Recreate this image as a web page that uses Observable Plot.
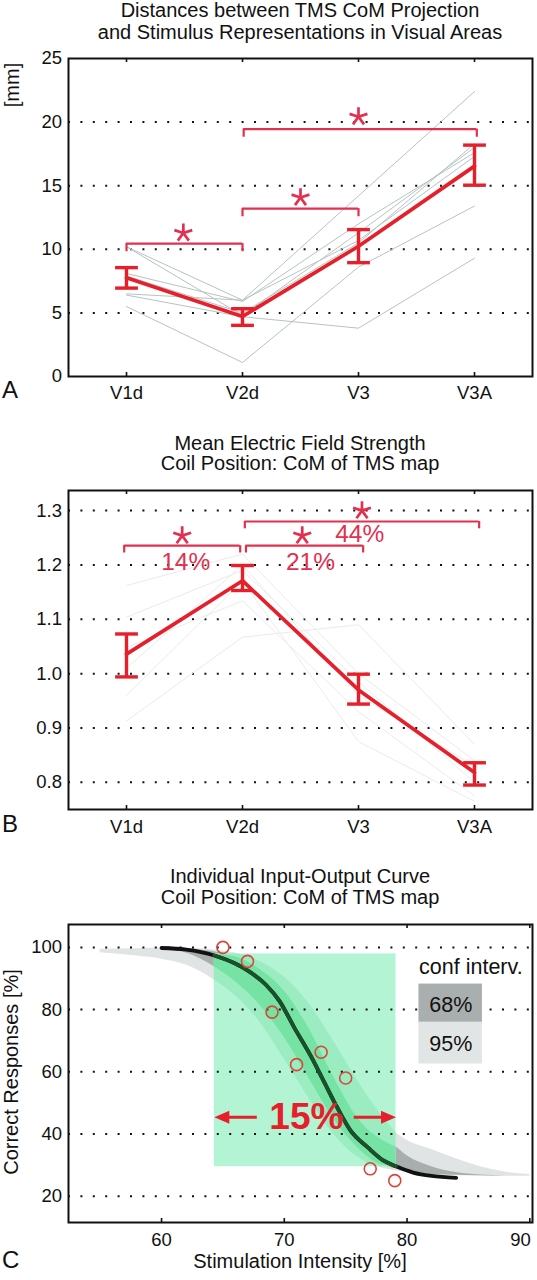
<!DOCTYPE html>
<html><head><meta charset="utf-8">
<script src="https://cdn.jsdelivr.net/npm/d3@7"></script>
<script src="https://cdn.jsdelivr.net/npm/@observablehq/plot@0.6"></script>
<style>
body{margin:0;background:#fff;}
#page{position:relative;width:537px;height:1280px;overflow:hidden;background:#fff;}
</style></head><body><div id="page"></div>
<script>
// ---------- data ----------
const areas = ["V1d", "V2d", "V3", "V3A"];

// Panel A: distances [mm]
const distMean = [7.77, 4.72, 10.24, 16.54];
const distLow  = [6.95, 4.02, 8.95, 15.04];
const distHigh = [8.56, 5.33, 11.55, 18.19];
const distSubjects = [
  [10.2, 6.0, 14.2, 22.4],
  [10.2, 4.8, 11.3, 18.0],
  [8.1, 5.9, 12.0, 17.6],
  [6.5, 6.0, 10.7, 17.3],
  [6.4, 4.7, 3.8, 9.3],
  [5.5, 1.1, 8.6, 13.4],
  [7.9, 5.0, 10.5, 18.3]
];
const distTicks = [0, 5, 10, 15, 20, 25];
const distSigFrom = [1, 2, 2.01];
const distSigTo   = [2, 3, 4.02];
const distSigY    = [10.45, 13.2, 19.45];
const distStarX   = [1.49, 2.5, 3.0];
const distStarY   = [11.28, 14.07, 20.42];

// Panel B: mean electric field strength
const fieldMean = [1.036, 1.171, 0.970, 0.818];
const fieldLow  = [0.994, 1.153, 0.944, 0.795];
const fieldHigh = [1.073, 1.199, 0.999, 0.836];
const fieldSubjects = [
  [1.162, 1.22, 1.0, 0.84],
  [1.104, 1.19, 0.985, 0.80],
  [1.048, 1.134, 0.93, 0.775],
  [0.913, 1.067, 1.09, 0.87],
  [0.96, 1.17, 0.875, 0.765],
  [1.01, 1.2, 0.96, 0.83]
];
const fieldTicks = [0.8, 0.9, 1.0, 1.1, 1.2, 1.3];
const fieldSigFrom = [0.98, 2.03, 2.02];
const fieldSigTo   = [1.98, 3.04, 4.04];
const fieldSigY    = [1.2355, 1.2355, 1.280];
const fieldStarX   = [1.48, 2.515, 3.03];
const fieldStarY   = [1.254, 1.254, 1.300];
const fieldPct     = ["14%", "21%", "44%"];
const fieldPctX    = [1.51, 2.586, 3.01];
const fieldPctY    = [1.205, 1.205, 1.256];

// Panel C: input-output curve
const curveX = [60, 62, 64.3, 66, 67, 68.5, 69.6, 70.8, 72.1, 73.2, 74.3, 75.4, 76.8, 78.1, 79.1, 80.5, 82, 84];
const curveY = [99.8, 99.3, 97.4, 94.8, 92.6, 88, 82.8, 74.3, 65.5, 57.1, 48.6, 41.1, 35.7, 31.4, 29.6, 27.6, 26.5, 25.9];
const trialX = [65, 67, 69, 71, 73, 75, 77, 79];
const trialY = [100, 95.5, 79.2, 62.3, 66.3, 58.0, 28.8, 25.0];
const band95X = [55, 58, 60, 62, 64.3, 66, 68, 70, 72, 74, 76, 78, 79.1, 80, 82, 84, 86, 88, 90];
const band95Lo = [98.3, 97.2, 96.2, 94.3, 89.5, 84.5, 76, 64, 51.5, 40, 32.5, 29, 28.2, 27.6, 26.9, 26.6, 26.5, 26.4, 26.4];
const band95Hi = [99.4, 99.6, 99.8, 99.7, 99.2, 98.2, 95.5, 90.5, 82, 70, 57, 45.5, 40.5, 38, 35, 32, 29.5, 27.8, 27];
const band68X = [60, 62, 64.3, 66, 68, 70, 72, 74, 76, 78, 79.1, 80, 82, 84, 86, 88];
const band68Lo = [99.4, 98.2, 93.8, 89, 81.5, 71, 58, 45, 35.5, 30, 28.8, 27.8, 27, 26.7, 26.6, 26.5];
const band68Hi = [99.9, 99.6, 98.6, 97, 93, 86, 74, 58.5, 45, 38, 35.8, 33, 29.5, 27.6, 26.8, 26.5];
const windowX = [64.3, 79.1];
const windowY = [29.5, 97.9];
const windowLabel = "15%";
const respTicks = [20, 40, 60, 80, 100];
const intensityTicks = [60, 70, 80, 90];
const legendLabels = ["68%", "95%"];

// ---------- styles ----------
const FONT = '"Liberation Sans", Arial, Helvetica, sans-serif';
const TICKFS = 18.5;
const W = 537, ML = 68, MR = 5;
const RED = "#e6202b", SIG = "#e3304f", SUBJ = "#b7c3c3", SUBJB = "#ebebeb";
const capSym = {draw(ctx, size) { const r = Math.sqrt(size / Math.PI); ctx.moveTo(-r, 0); ctx.lineTo(r, 0); }};
const starSym = {draw(ctx, size) { const r = Math.sqrt(size / Math.PI);
  for (let k = 0; k < 5; k++) { const a = -Math.PI / 2 + k * 2 * Math.PI / 5; ctx.moveTo(0, 0); ctx.lineTo(r * Math.cos(a), r * Math.sin(a)); } }};
const headSym = {draw(ctx) { ctx.moveTo(0, 0); ctx.lineTo(15, -6.5); ctx.lineTo(15, 6.5); ctx.closePath(); }};
const dotted = {strokeDasharray: "2,10.4", strokeWidth: 2, stroke: "#111"};

const page = document.getElementById("page");
function place(el, top) { el.style.position = "absolute"; el.style.left = "0px"; el.style.top = top + "px"; page.appendChild(el); }

function categoryPanel({mean, low, high, subjects, subjColor, ticks, grid, domain, tickFmt, sigFrom, sigTo, sigY, drop, starX, starY, pct, height, mt, mb, pad}) {
  const idx = areas.map((a, i) => i + 1);
  const frameH = height - mt - mb;
  const means = areas.map((a, i) => ({x: i + 1, y: mean[i], lo: low[i], hi: high[i]}));
  const subj = subjects.flatMap((s, j) => s.map((v, i) => ({x: i + 1, y: v, s: j})));
  const sig = sigFrom.map((f, i) => ({x1: f, x2: sigTo[i], y: sigY[i], yd: sigY[i] - drop}));
  const stars = starX.map((x, i) => ({x, y: starY[i]}));
  const marks = [
    Plot.ruleY(grid, dotted),
    Plot.line(subj, {x: "x", y: "y", z: "s", stroke: subjColor, strokeWidth: 1}),
    Plot.ruleY(sig, {y: "y", x1: "x1", x2: "x2", stroke: SIG, strokeWidth: 2.2}),
    Plot.ruleX(sig, {x: "x1", y1: "yd", y2: "y", stroke: SIG, strokeWidth: 2.2}),
    Plot.ruleX(sig, {x: "x2", y1: "yd", y2: "y", stroke: SIG, strokeWidth: 2.2}),
    Plot.dot(stars, {x: "x", y: "y", symbol: starSym, r: 9.4, fill: "none", stroke: SIG, strokeWidth: 2.7}),
    Plot.line(means, {x: "x", y: "y", stroke: RED, strokeWidth: 3.7}),
    Plot.ruleX(means, {x: "x", y1: "lo", y2: "hi", stroke: RED, strokeWidth: 3.4}),
    Plot.dot(means, {x: "x", y: "lo", symbol: capSym, r: 11.4, fill: "none", stroke: RED, strokeWidth: 3.4}),
    Plot.dot(means, {x: "x", y: "hi", symbol: capSym, r: 11.4, fill: "none", stroke: RED, strokeWidth: 3.4}),
    Plot.tickX(idx, {x: d => d, insetTop: frameH - 4, stroke: "#111", strokeWidth: 1.6}),
    Plot.tickX(idx, {x: d => d, insetBottom: frameH - 4, stroke: "#111", strokeWidth: 1.6}),
    Plot.frame({stroke: "#111", strokeWidth: 2})
  ];
  if (pct) marks.push(Plot.text(pct.labels.map((t, i) => ({t, x: pct.x[i], y: pct.y[i]})),
    {x: "x", y: "y", text: "t", fill: SIG, fontSize: 24.5}));
  return Plot.plot({
    width: W, height, marginLeft: ML, marginRight: MR, marginTop: mt, marginBottom: mb,
    style: {fontFamily: FONT, fontSize: TICKFS + "px", color: "#111", background: "transparent", overflow: "visible"},
    x: {type: "linear", domain: [0.5, 4.5], ticks: idx, tickFormat: i => areas[i - 1], tickSize: 0, tickPadding: pad, label: null},
    y: {domain, ticks, tickFormat: tickFmt, tickSize: 0, tickPadding: 6.5, label: null},
    marks
  });
}

const plotA = categoryPanel({mean: distMean, low: distLow, high: distHigh, subjects: distSubjects, subjColor: SUBJ,
  ticks: distTicks, grid: distTicks.slice(1, -1), domain: [0, 25], tickFmt: d => d,
  sigFrom: distSigFrom, sigTo: distSigTo, sigY: distSigY, drop: 0.64, starX: distStarX, starY: distStarY,
  height: 360, mt: 10, mb: 32, pad: 8.9});
place(plotA, 48);

const plotB = categoryPanel({mean: fieldMean, low: fieldLow, high: fieldHigh, subjects: fieldSubjects, subjColor: SUBJB,
  ticks: fieldTicks, grid: fieldTicks, domain: [0.75, 1.337], tickFmt: d3.format(".1f"),
  sigFrom: fieldSigFrom, sigTo: fieldSigTo, sigY: fieldSigY, drop: 0.0135, starX: fieldStarX, starY: fieldStarY,
  pct: {labels: fieldPct, x: fieldPctX, y: fieldPctY},
  height: 361, mt: 10, mb: 32, pad: 9.9});
place(plotB, 480);

// Panel C
const [wx1, wx2] = windowX, [wy1, wy2] = windowY;
const clampY = v => Math.max(wy1, Math.min(wy2, v));
const band95 = band95X.map((x, i) => ({x, lo: band95Lo[i], hi: band95Hi[i]}));
const band68 = band68X.map((x, i) => ({x, lo: band68Lo[i], hi: band68Hi[i]}));
const inWin = d => d.x >= wx1 && d.x <= wx2;
const g95 = band95.filter(inWin).map(d => ({x: d.x, lo: clampY(d.lo), hi: clampY(d.hi)}));
const g68 = band68.filter(inWin).map(d => ({x: d.x, lo: clampY(d.lo), hi: clampY(d.hi)}));
const curve = curveX.map((x, i) => ({x, y: curveY[i]}));
const trials = trialX.map((x, i) => ({x, y: trialY[i]}));
const frameHC = 338 - 10 - 30;
const arrowY = 45.4;
const xDomC = [52.42, 90.22];
const innerTicks = intensityTicks.filter(t => t < intensityTicks[intensityTicks.length - 1]);
const lastTick = intensityTicks[intensityTicks.length - 1];
const plotC = Plot.plot({
  width: W, height: 338, marginLeft: ML, marginRight: MR, marginTop: 10, marginBottom: 30,
  style: {fontFamily: FONT, fontSize: TICKFS + "px", color: "#111", background: "transparent", overflow: "visible"},
  x: {domain: xDomC, ticks: innerTicks, tickSize: 0, tickPadding: 9.9, label: null},
  y: {domain: [11.54, 107.36], ticks: respTicks, tickSize: 0, tickPadding: 6.5, label: null},
  marks: [
    Plot.areaY(band95, {x: "x", y1: "lo", y2: "hi", fill: "#e1e4e4", curve: "monotone-x"}),
    Plot.areaY(band68, {x: "x", y1: "lo", y2: "hi", fill: "#a8adad", curve: "monotone-x"}),
    Plot.rect([{x1: wx1, x2: wx2, y1: wy1, y2: wy2}], {x1: "x1", x2: "x2", y1: "y1", y2: "y2", fill: "#b3f4d4"}),
    Plot.areaY(g95, {x: "x", y1: "lo", y2: "hi", fill: "#9bedc1", curve: "monotone-x"}),
    Plot.areaY(g68, {x: "x", y1: "lo", y2: "hi", fill: "#76e3a5", curve: "monotone-x"}),
    Plot.ruleY(respTicks, dotted),
    Plot.rect([{x1: 80.97, x2: 86.14, y1: 75.9, y2: 88.2}], {x1: "x1", x2: "x2", y1: "y1", y2: "y2", fill: "#a9aeae"}),
    Plot.rect([{x1: 80.97, x2: 86.14, y1: 62.5, y2: 75.9}], {x1: "x1", x2: "x2", y1: "y1", y2: "y2", fill: "#e2e5e5"}),
    Plot.text(legendLabels, {x: 83.56, y: (d, i) => [81.3, 68.9][i], text: d => d, fontSize: 21.5, fill: "#111"}),
    Plot.text(["conf interv."], {x: 85.2, y: 93.5, text: d => d, fontSize: 21.5, fill: "#111"}),
    Plot.line(curve, {x: "x", y: "y", stroke: "#111", strokeWidth: 3.8, curve: "monotone-x"}),
    Plot.line(curve.filter(inWin), {x: "x", y: "y", stroke: "#18512a", strokeWidth: 3.8, curve: "monotone-x"}),
    Plot.dot(trials, {x: "x", y: "y", r: 6, fill: "none", stroke: "#d8473c", strokeWidth: 1.6}),
    Plot.ruleY([{y: arrowY, x1: wx1 + 0.6, x2: 67.8}, {y: arrowY, x1: 75.7, x2: wx2 - 0.6}], {y: "y", x1: "x1", x2: "x2", stroke: RED, strokeWidth: 3}),
    Plot.dot([{x: wx1, y: arrowY, a: 0}, {x: wx2, y: arrowY, a: 180}], {x: "x", y: "y", rotate: "a", symbol: headSym, r: 5, fill: RED, stroke: "none"}),
    Plot.text([windowLabel], {x: 71.8, y: 45.3, text: d => d, fontSize: 37, fontWeight: "bold", fill: RED}),
    Plot.text([lastTick], {x: d => d, frameAnchor: "bottom", lineAnchor: "top", textAnchor: "end", dy: 9.9, dx: 1, text: d => String(d), fontSize: TICKFS, fill: "#111"}),
    Plot.tickX(intensityTicks, {x: d => d, insetTop: frameHC - 4, stroke: "#111", strokeWidth: 1.6}),
    Plot.tickX(intensityTicks, {x: d => d, insetBottom: frameHC - 4, stroke: "#111", strokeWidth: 1.6}),
    Plot.frame({stroke: "#111", strokeWidth: 2})
  ]
});
place(plotC, 914);

// ---------- titles and labels ----------
const ov = d3.create("svg").attr("width", W).attr("height", 1280)
  .style("position", "absolute").style("left", "0px").style("top", "0px").style("pointer-events", "none")
  .attr("font-family", FONT).attr("fill", "#111");
const title = (t, y) => ov.append("text").attr("x", 300).attr("y", y).attr("text-anchor", "middle").attr("font-size", 20).text(t);
title("Distances between TMS CoM Projection", 17);
title("and Stimulus Representations in Visual Areas", 38.5);
title("Mean Electric Field Strength", 449.5);
title("Coil Position: CoM of TMS map", 470);
title("Individual Input-Output Curve", 883);
title("Coil Position: CoM of TMS map", 904);
title("Stimulation Intensity [%]", 1268);
ov.append("text").attr("transform", "translate(19,85) rotate(-90)").attr("text-anchor", "middle").attr("font-size", 20).text("[mm]");
ov.append("text").attr("transform", "translate(18,1072) rotate(-90)").attr("text-anchor", "middle").attr("font-size", 20).text("Correct Responses [%]");
const letter = (t, y) => ov.append("text").attr("x", 2).attr("y", y).attr("font-size", 24).text(t);
letter("A", 398); letter("B", 832); letter("C", 1268);
page.appendChild(ov.node());
</script></body></html>
